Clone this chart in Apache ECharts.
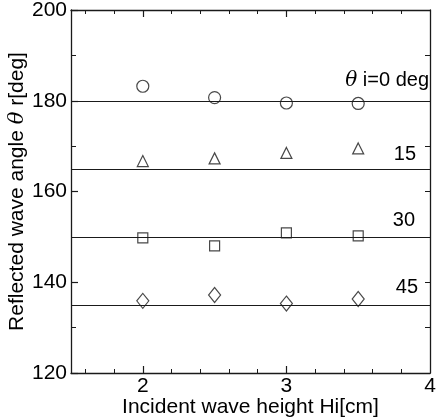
<!DOCTYPE html>
<html><head><meta charset="utf-8">
<script src="https://cdn.jsdelivr.net/npm/echarts@6/dist/echarts.min.js"></script>
<style>html,body{margin:0;padding:0;background:#fff}#c{width:436px;height:418px}</style>
</head><body><div id="c"></div>
<script>
// Data
const waveHeights = [2, 2.5, 3, 3.5];
const angle0 = [183.2, 180.7, 179.5, 179.4];
const angle15 = [166.7, 167.3, 168.5, 169.5];
const angle30 = [149.8, 148.0, 150.9, 150.2];
const angle45 = [135.9, 137.2, 135.3, 136.3];
const refAngles = [180, 165, 150, 135];
const refLabels = ['{t|θ} i=0 deg', '15', '30', '45'];
const xLabelValues = [2, 3, 4];
const xMajorTicks = [2, 3];
const xMinorTicks = [1.6, 1.8, 2.2, 2.4, 2.6, 2.8, 3.2, 3.4, 3.6, 3.8];

const FONT = '"Liberation Sans", Arial, Helvetica, sans-serif';
const INK = '#1a1a1a';
const seriesValues = [angle0, angle15, angle30, angle45];
const symbols = ['circle', 'triangle', 'rect', 'diamond'];
const symbolSizes = [12, 11, 10, [12, 15]];
const labelDist = [[1, 10], [14, 4], [15, 6], [12, 7]];

const chart = echarts.init(document.getElementById('c'), null, {renderer: 'canvas'});

const series = seriesValues.map((vals, i) => ({
  type: 'scatter',
  xAxisIndex: 0, yAxisIndex: 0,
  data: waveHeights.map((x, j) => [x, vals[j]]),
  symbol: symbols[i],
  symbolSize: symbolSizes[i],
  itemStyle: {color: 'rgba(0,0,0,0)', borderColor: INK, borderWidth: 1.2},
  silent: true,
  z: 3,
  markLine: {
    silent: true,
    symbol: 'none',
    animation: false,
    lineStyle: {color: INK, width: 1.2, type: 'solid'},
    data: [{
      yAxis: refAngles[i],
      label: {
        show: true,
        position: 'insideEndTop',
        distance: labelDist[i],
        formatter: refLabels[i],
        color: '#000',
        fontFamily: FONT,
        fontSize: 20,
        rich: {t: {fontStyle: 'italic', fontFamily: '"DejaVu Serif", serif', fontSize: 20, color: '#000'}}
      }
    }]
  }
}));

const baseX = {
  type: 'value', min: 1.5, max: 4,
  splitLine: {show: false},
  axisLine: {show: false}
};

chart.setOption({
  animation: false,
  backgroundColor: '#fff',
  grid: {left: 71, right: 6, top: 10, bottom: 45, show: false, containLabel: false, outerBoundsMode: 'none'},
  xAxis: [
    Object.assign({}, baseX, {
      position: 'bottom',
      axisLine: {show: true, onZero: false, lineStyle: {color: INK, width: 1.3}},
      axisTick: {show: true, inside: true, length: 7, customValues: xMajorTicks, lineStyle: {color: INK, width: 1.2}},
      axisLabel: {show: true, customValues: xLabelValues, margin: 3, color: '#000', fontFamily: FONT, fontSize: 21},
      name: 'Incident wave height Hi[cm]',
      nameLocation: 'middle',
      nameGap: 24,
      nameMoveOverlap: false,
      nameTextStyle: {color: '#000', fontFamily: FONT, fontSize: 21}
    }),
    Object.assign({}, baseX, {
      position: 'bottom',
      axisTick: {show: true, inside: true, length: 4, customValues: xMinorTicks, lineStyle: {color: INK, width: 1}},
      axisLabel: {show: false}
    }),
    Object.assign({}, baseX, {
      position: 'top',
      axisLine: {show: true, onZero: false, lineStyle: {color: INK, width: 1.3}},
      axisTick: {show: true, inside: true, length: 7, customValues: xMajorTicks, lineStyle: {color: INK, width: 1.2}},
      axisLabel: {show: false}
    }),
    Object.assign({}, baseX, {
      position: 'top',
      axisTick: {show: true, inside: true, length: 4, customValues: xMinorTicks, lineStyle: {color: INK, width: 1}},
      axisLabel: {show: false}
    })
  ],
  yAxis: [
    {
      type: 'value', min: 120, max: 200, interval: 20,
      position: 'left',
      splitLine: {show: false},
      axisLine: {show: true, onZero: false, lineStyle: {color: INK, width: 1.3}},
      axisTick: {show: true, inside: true, length: 7, lineStyle: {color: INK, width: 1.2}},
      minorTick: {show: true, splitNumber: 2, length: 5, lineStyle: {color: INK, width: 1}},
      axisLabel: {margin: 4, color: '#000', fontFamily: FONT, fontSize: 21},
      name: 'Reflected wave angle {t|θ} r[deg]',
      nameLocation: 'middle',
      nameGap: 43,
      nameMoveOverlap: false,
      nameTextStyle: {color: '#000', fontFamily: FONT, fontSize: 21,
        rich: {t: {fontStyle: 'italic', fontFamily: '"DejaVu Serif", serif', fontSize: 21, color: '#000'}}}
    },
    {
      type: 'value', min: 120, max: 200, interval: 10,
      position: 'right',
      splitLine: {show: false},
      axisLine: {show: true, onZero: false, lineStyle: {color: INK, width: 1.3}},
      axisTick: {show: true, inside: true, length: 5, lineStyle: {color: INK, width: 1}},
      axisLabel: {show: false}
    }
  ],
  series: series
});
</script>
</body></html>
